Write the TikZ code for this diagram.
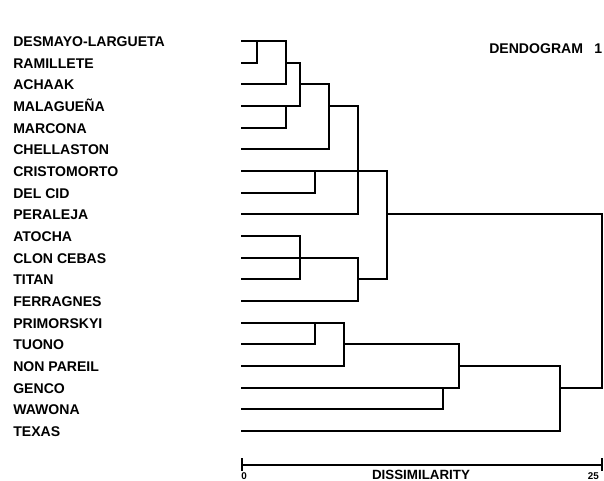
\documentclass[tikz,border=0pt]{standalone}
\usepackage{fontspec}
\setmainfont{Liberation Sans}
\begin{document}
\begin{tikzpicture}[x=0.025cm, y=-0.025cm, font=\fontsize{10}{12}\selectfont\bfseries,
  branch/.style={line width=1.3pt, line cap=rect},
  cvname/.style={anchor=base west, inner sep=0pt},
  axisline/.style={line width=1pt}]
\useasboundingbox (0,0) rectangle (604,480);

\begin{scope}
% cultivars, one row each
\foreach \cv [count=\i from 0] in {DESMAYO-LARGUETA, RAMILLETE, ACHAAK, MALAGUEÑA, MARCONA, CHELLASTON, CRISTOMORTO, DEL CID, PERALEJA, ATOCHA, CLON CEBAS, TITAN, FERRAGNES, PRIMORSKYI, TUONO, NON PAREIL, GENCO, WAWONA, TEXAS}
{
  \node[cvname] (n\i) at (13,{46.5+21.67*\i}) {\cv};
  \coordinate (l\i) at (242,{41+21.67*\i});
}
% joining levels
\foreach \x in {257,286,300,315,329,344,358,387,443,459,560,602}
  \coordinate (k\x) at (\x,0);

\draw[branch] (l0) -| (k286 |- l2) -- (l2);
\draw[branch] (l1) -| (k257 |- l0);
\draw[branch] (k286 |- l1) -| (k300 |- l3) -- (l3);
\draw[branch] (l4) -| (k286 |- l3);
\draw[branch] (k300 |- l2) -| (k329 |- l5) -- (l5);
\draw[branch] (k329 |- l3) -| (k358 |- l8) -- (l8);
\draw[branch] (l6) -| (k387 |- l11);
\draw[branch] (l7) -| (k315 |- l6);
\draw[branch] (l9) -| (k300 |- l11) -- (l11);
\draw[branch] (l10) -| (k358 |- l12) -- (l12);
\draw[branch] (k358 |- l11) -- (k387 |- l11);
\draw[branch] (k387 |- l8) -| (k602 |- l16);

\draw[branch] (l13) -| (k344 |- l15) -- (l15);
\draw[branch] (l14) -| (k315 |- l13);
\draw[branch] (k344 |- l14) -| (k459 |- l16) -- (l16);
\draw[branch] (l17) -| (k443 |- l16);
\draw[branch] (k459 |- l15) -| (k560 |- l18) -- (l18);
\draw[branch] (k560 |- l16) -- (k602 |- l16);
\end{scope}

\node[anchor=base west, inner sep=0pt] (title) at (489,53) {DENDOGRAM\hspace{8pt}1};

% scale
\coordinate (a0) at (242,465);
\coordinate (a25) at (602,465);
\draw[axisline] (a0) -- (a25);
\draw[axisline] (a0) ++(0,-7) -- ++(0,13);
\draw[axisline] (a25) ++(0,-7) -- ++(0,13);
\node[anchor=base, inner sep=0pt, font=\fontsize{7}{8}\selectfont\bfseries] (zero) at (244,479) {0};
\node[anchor=base east, inner sep=0pt, font=\fontsize{7}{8}\selectfont\bfseries] (max) at (599,479) {25};
\node[anchor=base, inner sep=0pt, font=\fontsize{9.5}{11}\selectfont\bfseries] (dis) at (421,479) {DISSIMILARITY};

\end{tikzpicture}
\end{document}
